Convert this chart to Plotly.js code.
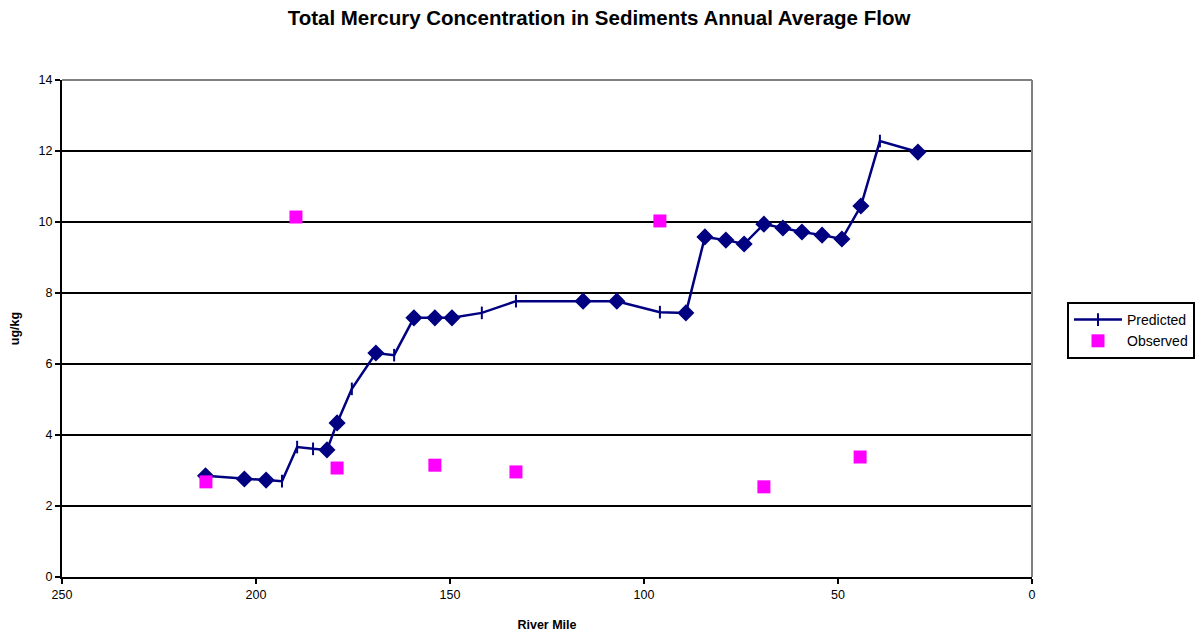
<!DOCTYPE html>
<html>
<head>
<meta charset="utf-8">
<script src="https://cdn.plot.ly/plotly-3.0.1.min.js"></script>
<style>html,body{margin:0;padding:0;background:#fff;}#chart{width:1198px;height:632px;}</style>
</head>
<body>
<div id="chart"></div>
<script>
// Predicted series (river mile, ug/kg) and marker style per point (D = diamond, T = tick)
const predMile = [213, 203, 197.4, 193.3, 189.4, 185.3, 181.7, 179.1, 175.3, 169.1, 164.4, 159.3, 153.9, 149.5, 141.8, 133.0, 115.7, 107.0, 95.9, 89.2, 84.3, 78.9, 74.2, 69.1, 64.2, 59.3, 54.1, 49.0, 44.1, 39.2, 29.4];
const predVal  = [2.85, 2.76, 2.73, 2.70, 3.66, 3.61, 3.58, 4.34, 5.30, 6.31, 6.25, 7.30, 7.30, 7.30, 7.44, 7.77, 7.77, 7.77, 7.46, 7.44, 9.58, 9.49, 9.38, 9.94, 9.83, 9.72, 9.63, 9.52, 10.45, 12.28, 11.97];
const predKind = ['D','D','D','T','T','T','D','D','T','D','T','D','D','D','T','T','D','D','T','D','D','D','D','D','D','D','D','D','D','T','D'];

// Observed series
const obsMile = [212.9, 189.7, 179.1, 153.9, 133.0, 95.9, 69.1, 44.3];
const obsVal  = [2.68, 10.14, 3.07, 3.15, 2.96, 10.03, 2.54, 3.38];

const xTicks = [250, 200, 150, 100, 50, 0];
const yTicks = [0, 2, 4, 6, 8, 10, 12, 14];

const navy = '#000080';
const pink = '#FF00FF';
const symbols = predKind.map(k => k === 'D' ? 'diamond' : 'line-ns');
const sizes = predKind.map(k => k === 'D' ? 11 : 9);

const traces = [
  {
    x: predMile, y: predVal, type: 'scatter', mode: 'lines+markers',
    name: 'Predicted', showlegend: false, legendgroup: 'pred',
    line: {color: navy, width: 2.5},
    marker: {symbol: symbols, size: sizes, opacity: 1, color: navy, line: {color: navy, width: 2}}
  },
  {
    x: [null], y: [null], type: 'scatter', mode: 'lines+markers',
    name: 'Predicted', legendgroup: 'pred',
    line: {color: navy, width: 2.5},
    marker: {symbol: 'line-ns', size: 9, opacity: 1, color: navy, line: {color: navy, width: 2}}
  },
  {
    x: obsMile, y: obsVal, type: 'scatter', mode: 'markers',
    name: 'Observed',
    marker: {symbol: 'square', size: 13, opacity: 1, color: pink, line: {width: 0}}
  }
];

const layout = {
  width: 1198, height: 632,
  margin: {l: 62, r: 166, t: 80, b: 55},
  paper_bgcolor: '#fff', plot_bgcolor: '#fff',
  font: {family: '"Liberation Sans", Arial, sans-serif', size: 12, color: '#000'},
  title: {text: '<b>Total Mercury Concentration in Sediments Annual Average Flow</b>',
          font: {size: 20.5, color: '#000'}, x: 0.5, xanchor: 'center', y: 0.972, yanchor: 'middle'},
  xaxis: {
    range: [250, 0], tickvals: xTicks, ticktext: xTicks.map(String),
    ticks: 'outside', ticklen: 5, tickwidth: 2, tickcolor: '#000',
    showgrid: false, zeroline: false, showline: true, linecolor: '#000', linewidth: 2,
    tickfont: {size: 12.5},
    title: {text: '<b>River Mile</b>', font: {size: 12.5}, standoff: 20}
  },
  yaxis: {
    range: [0, 14], tickvals: yTicks, ticktext: yTicks.map(String),
    ticks: 'outside', ticklen: 5, tickwidth: 2, tickcolor: '#000',
    showgrid: true, gridcolor: '#000', gridwidth: 2,
    zeroline: false, showline: true, linecolor: '#000', linewidth: 2,
    tickfont: {size: 12.5},
    title: {text: '<b>ug/kg</b>', font: {size: 12.5}, standoff: 16}
  },
  shapes: [
    {type: 'line', xref: 'paper', yref: 'paper', x0: 0, x1: 1, y0: 1, y1: 1, line: {color: '#808080', width: 2}},
    {type: 'line', xref: 'paper', yref: 'paper', x0: 1, x1: 1, y0: 0, y1: 1, line: {color: '#808080', width: 2}}
  ],
  legend: {
    xref: 'container', yref: 'container',
    x: 1067 / 1198, y: 1 - 302 / 632, xanchor: 'left', yanchor: 'top',
    bordercolor: '#000', borderwidth: 2, bgcolor: '#fff',
    font: {size: 14}, itemwidth: 48, tracegroupgap: 0
  }
};

Plotly.newPlot('chart', traces, layout, {displayModeBar: false, staticPlot: true});
</script>
</body>
</html>
